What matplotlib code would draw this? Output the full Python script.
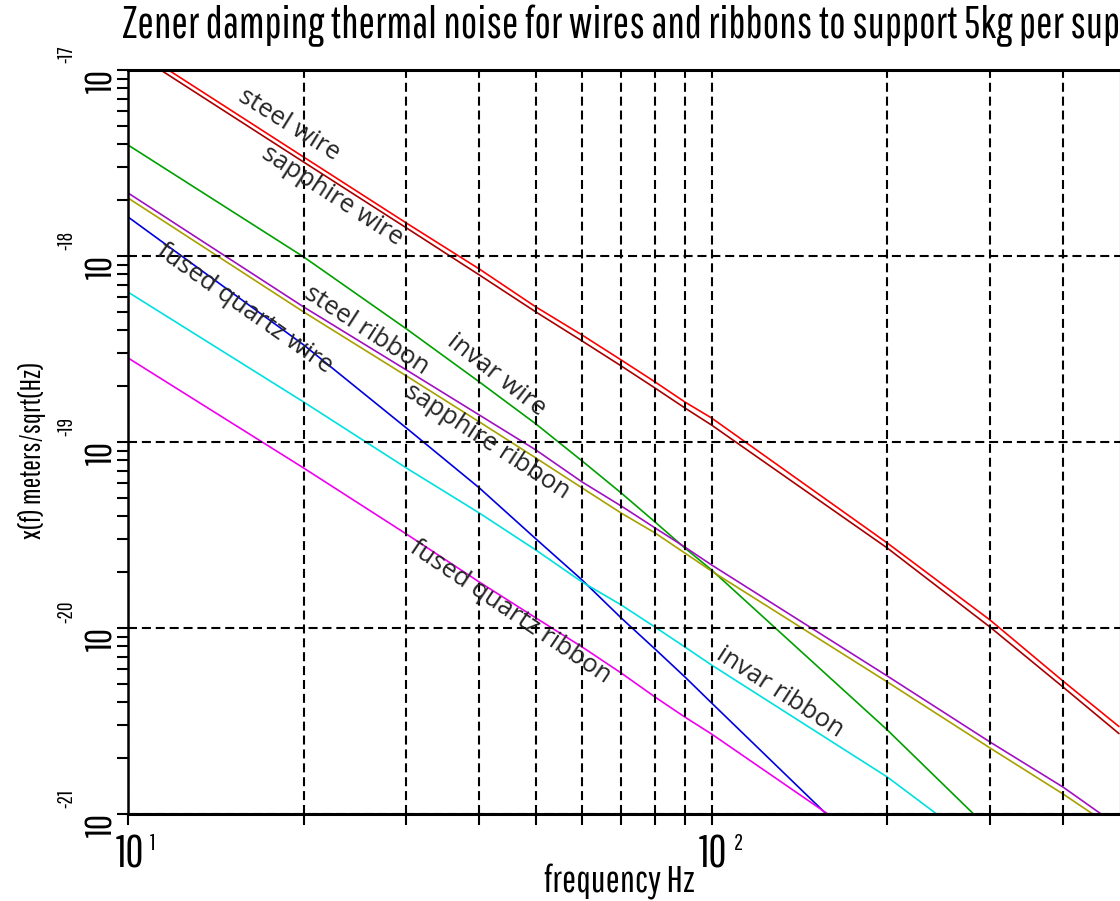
import numpy as np
import matplotlib
matplotlib.use("Agg")
import matplotlib.pyplot as plt
from matplotlib import font_manager as fm
from matplotlib.textpath import TextPath
from matplotlib.font_manager import FontProperties

# ---------------- data ----------------
freq_main = [10, 20, 30, 40, 50, 60, 70, 80, 90, 100, 200, 300, 400, 500]
freq_invar_wire = [10, 20, 30, 40, 50, 60, 70, 80, 90, 100, 200, 300]
freq_fq_wire = [10, 20, 30, 40, 50, 60, 70, 80, 90, 100, 200]
freq_invar_ribbon = [10, 20, 30, 40, 50, 60, 70, 80, 90, 100, 200, 300]
freq_fq_ribbon = [10, 20, 30, 40, 50, 60, 70, 80, 90, 100, 200]

# log10 of x(f) [meters/sqrt(Hz)]
steel_wire = [-16.860, -17.468, -17.823, -18.070, -18.274, -18.425, -18.559,
              -18.677, -18.785, -18.871, -19.543, -19.957, -20.285, -20.532]
sapphire_wire = [-16.887, -17.495, -17.849, -18.102, -18.301, -18.457, -18.591,
                 -18.710, -18.817, -18.909, -19.570, -19.995, -20.317, -20.570]
invar_wire = [-17.403, -18.005, -18.392, -18.677, -18.903, -19.102, -19.274,
              -19.430, -19.570, -19.688, -20.548, -21.086]
steel_ribbon = [-17.661, -18.274, -18.613, -18.855, -19.043, -19.215, -19.344,
                -19.462, -19.565, -19.661, -20.258, -20.613, -20.855, -21.070]
sapphire_ribbon = [-17.688, -18.301, -18.645, -18.892, -19.086, -19.247, -19.382,
                   -19.489, -19.597, -19.694, -20.290, -20.645, -20.892, -21.097]
fused_quartz_wire = [-17.790, -18.478, -18.925, -19.247, -19.521, -19.742, -19.946,
                     -20.113, -20.263, -20.403, -21.317]
invar_ribbon = [-18.194, -18.785, -19.140, -19.382, -19.581, -19.753, -19.876,
                -19.995, -20.102, -20.199, -20.801, -21.215]
fused_quartz_ribbon = [-18.548, -19.140, -19.495, -19.753, -19.946, -20.102, -20.242,
                       -20.371, -20.479, -20.570, -21.220]

series = [
    ("steel wire", freq_main, steel_wire, "#ff0000"),
    ("sapphire wire", freq_main, sapphire_wire, "#a80000"),
    ("invar wire", freq_invar_wire, invar_wire, "#00a000"),
    ("steel ribbon", freq_main, steel_ribbon, "#a010c0"),
    ("sapphire ribbon", freq_main, sapphire_ribbon, "#a8a000"),
    ("fused quartz wire", freq_fq_wire, fused_quartz_wire, "#0000e0"),
    ("invar ribbon", freq_invar_ribbon, invar_ribbon, "#00e0e0"),
    ("fused quartz ribbon", freq_fq_ribbon, fused_quartz_ribbon, "#f000f0"),
]

# curve labels: text, log10 freq, log10 amplitude, rotation (deg)
label_text = ["steel wire", "sapphire wire", "fused quartz wire", "steel ribbon",
              "invar wire", "sapphire ribbon", "fused quartz ribbon", "invar ribbon"]
label_logf = [1.2757, 1.3493, 1.2003, 1.4092, 1.6318, 1.6147, 1.6558, 2.1164]
label_logy = [-17.296, -17.677, -18.285, -18.403, -18.640, -19.000, -19.914, -20.344]
label_rot = [-32, -33, -35, -33, -38, -33, -34, -33]

xtick_values = [10, 100]
xtick_exp = ["1", "2"]
xminor_values = [20, 30, 40, 50, 60, 70, 80, 90, 200, 300, 400]
ytick_values = [1e-21, 1e-20, 1e-19, 1e-18, 1e-17]
ytick_exp = ["-21", "-20", "-19", "-18", "-17"]

title_text = "Zener damping thermal noise for wires and ribbons to support 5kg per sup"
xlabel_text = "frequency Hz"
ylabel_text = "x(f) meters/sqrt(Hz)"

# ---------------- fonts ----------------
names = {f.name for f in fm.fontManager.ttflist}
MONO = "DejaVu Sans Mono"
for cand in ["Pathway Gothic One", "Saira Extra Condensed", "Roboto Condensed",
             "Liberation Sans Narrow", "DejaVu Sans Condensed", "DejaVu Sans Mono"]:
    if cand in names:
        MONO = cand
        break
LABF = "Open Sans" if "Open Sans" in names else "DejaVu Sans"
plt.rcParams["lines.scale_dashes"] = False

DPI = 100
W, H = 1120, 901
fig = plt.figure(figsize=(W / DPI, H / DPI), dpi=DPI)
ax = fig.add_axes([128 / W, 1 - 814 / H, (1119.5 - 128) / W, (814 - 70) / H])

for name, f, ly, c in series:
    ax.plot(f, 10.0 ** np.array(ly), color=c, lw=1.2, solid_capstyle="butt", zorder=2)

ax.set_xscale("log")
ax.set_yscale("log")
ax.set_xlim(10, 500)
ax.set_ylim(1e-21, 1e-17)

ax.set_xticks(xtick_values)
ax.set_xticks(xminor_values, minor=True)
ax.set_yticks(ytick_values)
ax.set_xticklabels([])
ax.set_xticklabels([], minor=True)
ax.set_yticklabels([])
ax.yaxis.set_minor_formatter(plt.NullFormatter())
ax.tick_params(which="both", direction="out", length=8, width=1.5, color="black",
               top=False, right=False)

dash = (0, (6.5, 3.5))
ax.grid(True, which="major", axis="y", color="black", lw=1.5, linestyle=dash)
ax.grid(True, which="both", axis="x", color="black", lw=1.5, linestyle=dash)
ax.set_axisbelow(False)

for s in ["top", "bottom"]:
    ax.spines[s].set_linewidth(2.2)
ax.spines["left"].set_linewidth(1.8)
ax.spines["right"].set_color("#c8c8c8")
ax.spines["right"].set_linewidth(1.0)

renderer = fig.canvas.get_renderer()


def fit(t, target):
    w = t.get_window_extent(renderer).width
    t.set_fontsize(t.get_fontsize() * target / w)


def size_for_height(family, px, ch="H"):
    tp = TextPath((0, 0), ch, size=100, prop=FontProperties(family=family))
    h = tp.get_extents().height / 100.0  # glyph height per point of font size
    return px / (h * DPI / 72.0)


def size_for_width(family, text, px):
    p = fig.text(0, 0, text, family=family, fontsize=20)
    fit(p, px)
    s = p.get_fontsize()
    p.remove()
    return s


# title
tt = fig.text(122 / W, 1 - 38 / H, title_text, family=MONO, fontsize=20,
              ha="left", va="baseline", color="black")
fit(tt, 997)

# axis labels
sxl = min(size_for_width(MONO, xlabel_text, 150), size_for_height(MONO, 28))
fig.text(619 / W, 1 - 893 / H, xlabel_text, family=MONO, fontsize=sxl,
         ha="center", va="baseline")
syl = min(size_for_width(MONO, ylabel_text, 200), size_for_height(MONO, 20))
fig.text(41 / W, 1 - 450 / H, ylabel_text, family=MONO, fontsize=syl,
         ha="center", va="baseline", rotation=90, rotation_mode="anchor")

# tick labels
xt = ax.get_xaxis_transform()
yt = ax.get_yaxis_transform()
sx = size_for_height(MONO, 31, "1")
sxe = size_for_height(MONO, 16, "1")
sy = size_for_height(MONO, 26, "1")
sye = min(size_for_width(MONO, "-17", 24), size_for_height(MONO, 15, "1"))

for v, e in zip(xtick_values, xtick_exp):
    ax.annotate("10", xy=(v, 0), xycoords=xt, xytext=(1.5, -54), textcoords="offset pixels",
                ha="center", va="baseline", family=MONO, fontsize=sx, annotation_clip=False)
    ax.annotate(e, xy=(v, 0), xycoords=xt, xytext=(22, -36), textcoords="offset pixels",
                ha="left", va="baseline", family=MONO, fontsize=sxe, annotation_clip=False)
for v, e in zip(ytick_values, ytick_exp):
    ax.annotate("10", xy=(0, v), xycoords=yt, xytext=(-16, -11), textcoords="offset pixels",
                ha="center", va="baseline", rotation=90, rotation_mode="anchor",
                family=MONO, fontsize=sy, annotation_clip=False)
    ax.annotate(e, xy=(0, v), xycoords=yt, xytext=(-56, 16), textcoords="offset pixels",
                ha="center", va="baseline", rotation=90, rotation_mode="anchor",
                family=MONO, fontsize=sye, annotation_clip=False)

# curve labels
lab_lengths = [105, 165, 210, 137, 111, 190, 242, 146]
sizes = [size_for_width(LABF, txt, L) for txt, L in zip(label_text, lab_lengths)]
lab_size = float(np.median(sizes))
for txt, lf, lyv, r in zip(label_text, label_logf, label_logy, label_rot):
    ax.text(10 ** lf, 10 ** lyv, txt, family=LABF, fontsize=lab_size, color="#262626",
            rotation=r, rotation_mode="anchor", ha="center", va="center", zorder=5)

fig.savefig("out.png", dpi=DPI)
